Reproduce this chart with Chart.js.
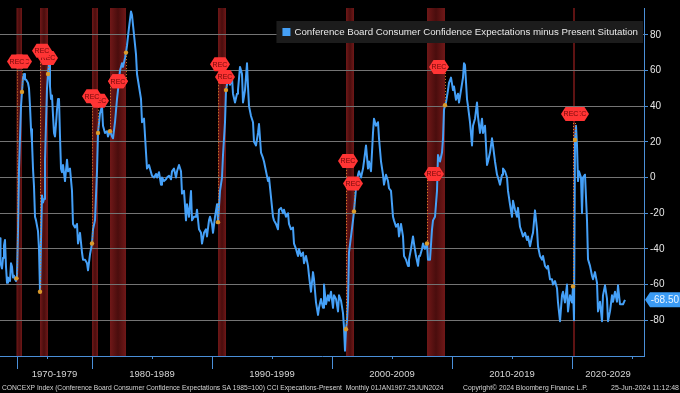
<!DOCTYPE html>
<html>
<head>
<meta charset="utf-8">
<script src="https://cdn.jsdelivr.net/npm/chart.js@4.4.1/dist/chart.umd.min.js"></script>
<style>
  html, body { margin: 0; padding: 0; background: #000; }
  #wrap { width: 680px; height: 393px; }
</style>
</head>
<body>
<div id="wrap"><canvas id="cci" width="680" height="393"></canvas></div>
<script>
// Conference Board: expectations index minus present situation index
// bimonthly until mid-1977, monthly after that (Bloomberg spaces by observation)
const seriesName = 'Conference Board Consumer Confidence Expectations minus Present Situtation';

const dates = [
  '1967-01','1967-03','1967-05','1967-07','1967-09','1967-11','1968-01','1968-03','1968-05','1968-07','1968-09','1968-11',
  '1969-01','1969-03','1969-05','1969-07','1969-09','1969-11','1970-01','1970-03','1970-05','1970-07','1970-09','1970-11',
  '1971-01','1971-03','1971-05','1971-07','1971-09','1971-11','1972-01','1972-03','1972-05','1972-07','1972-09','1972-11',
  '1973-01','1973-03','1973-05','1973-07','1973-09','1973-11','1974-01','1974-03','1974-05','1974-07','1974-09','1974-11',
  '1975-01','1975-03','1975-05','1975-07','1975-09','1975-11','1976-01','1976-03','1976-05','1976-07','1976-09','1976-11',
  '1977-01','1977-03','1977-05','1977-07','1977-08','1977-10','1977-12','1978-01','1978-03','1978-05','1978-06','1978-08',
  '1978-10','1978-11','1979-01','1979-03','1979-04','1979-06','1979-08','1979-09','1979-11','1980-01','1980-02','1980-04',
  '1980-06','1980-07','1980-09','1980-11','1980-12','1981-02','1981-04','1981-05','1981-07','1981-09','1981-10','1981-12',
  '1982-02','1982-03','1982-05','1982-07','1982-08','1982-10','1982-11','1982-12','1983-02','1983-04','1983-05','1983-07',
  '1983-09','1983-10','1983-12','1984-02','1984-03','1984-05','1984-07','1984-08','1984-10','1984-12','1985-01','1985-03',
  '1985-05','1985-06','1985-08','1985-10','1985-11','1986-01','1986-03','1986-04','1986-06','1986-08','1986-09','1986-11',
  '1987-01','1987-02','1987-04','1987-06','1987-07','1987-09','1987-11','1987-12','1988-02','1988-04','1988-05','1988-07',
  '1988-09','1988-10','1988-12','1989-02','1989-03','1989-05','1989-07','1989-08','1989-10','1989-11','1990-01','1990-02',
  '1990-04','1990-06','1990-07','1990-09','1990-11','1990-12','1991-02','1991-03','1991-05','1991-07','1991-09','1991-10',
  '1991-12','1992-02','1992-03','1992-05','1992-07','1992-08','1992-10','1992-12','1993-01','1993-02','1993-04','1993-06',
  '1993-07','1993-09','1993-11','1993-12','1994-02','1994-04','1994-05','1994-07','1994-09','1994-10','1994-12','1995-02',
  '1995-03','1995-05','1995-07','1995-08','1995-10','1995-12','1996-01','1996-03','1996-05','1996-06','1996-08','1996-10',
  '1996-11','1997-01','1997-03','1997-04','1997-06','1997-08','1997-09','1997-11','1998-01','1998-02','1998-04','1998-06',
  '1998-07','1998-09','1998-11','1998-12','1999-02','1999-04','1999-05','1999-07','1999-09','1999-10','1999-12','2000-02',
  '2000-03','2000-05','2000-07','2000-08','2000-10','2000-12','2001-01','2001-02','2001-03','2001-04','2001-05','2001-06',
  '2001-08','2001-10','2001-11','2002-01','2002-03','2002-04','2002-06','2002-08','2002-09','2002-11','2003-01','2003-02',
  '2003-04','2003-06','2003-07','2003-09','2003-11','2003-12','2004-02','2004-04','2004-05','2004-07','2004-09','2004-10',
  '2004-12','2005-02','2005-03','2005-05','2005-07','2005-08','2005-10','2005-12','2006-01','2006-03','2006-05','2006-06',
  '2006-08','2006-10','2006-11','2007-01','2007-03','2007-04','2007-05','2007-07','2007-08','2007-10','2007-12','2008-01',
  '2008-03','2008-05','2008-06','2008-08','2008-10','2008-11','2009-01','2009-03','2009-04','2009-05','2009-06','2009-07',
  '2009-09','2009-10','2009-12','2010-02','2010-03','2010-05','2010-07','2010-08','2010-10','2010-12','2011-01','2011-02',
  '2011-04','2011-05','2011-07','2011-09','2011-10','2011-12','2012-02','2012-03','2012-05','2012-07','2012-08','2012-10',
  '2012-12','2013-01','2013-03','2013-05','2013-06','2013-08','2013-10','2013-11','2014-01','2014-03','2014-04','2014-06',
  '2014-08','2014-09','2014-11','2015-01','2015-02','2015-04','2015-06','2015-07','2015-09','2015-11','2015-12','2016-02',
  '2016-04','2016-05','2016-07','2016-09','2016-10','2016-12','2017-02','2017-03','2017-05','2017-07','2017-08','2017-10',
  '2017-12','2018-01','2018-03','2018-05','2018-06','2018-08','2018-10','2018-11','2019-01','2019-03','2019-04','2019-06',
  '2019-08','2019-09','2019-11','2020-01','2020-02','2020-03','2020-04','2020-05','2020-06','2020-07','2020-08','2020-10',
  '2020-11','2020-12','2021-02','2021-04','2021-05','2021-07','2021-09','2021-10','2021-12','2022-02','2022-03','2022-05',
  '2022-07','2022-08','2022-10','2022-12','2023-01','2023-03','2023-05','2023-06','2023-08','2023-10','2023-11','2024-01',
  '2024-03','2024-04','2024-06'
];

const values = [
  -34, -36, -48, -51, -45, -38, -35, -50, -59, -56, -57, -58,
  -48, -50, -56, -55, -57, -58, -55, -30, 5, 22, 40, 48,
  56, 58, 55, 55, 54, 53, 50, 40, 27, 20, 5, -5,
  -22, -24, -27, -30, -40, -64, -35, -10, -14, -12, 10, 30,
  50, 58, 64, 51, 44, 46, 35, 25, 23, 30, 38, 44,
  44, 23, 5, 3, 7, -2, 10, 3.5, 5, -7.5, -26, -28,
  -26, -37, -31, -42, -46, -46, -48, -52, -43, -37, -29, -24,
  3.5, 25, 36, 40, 29, 25, 26, 23, 26, 23, 22, 31,
  44, 49, 60, 64, 62, 67, 70, 74, 84, 93, 91, 80,
  69, 58, 51, 44, 31, 33, 14, 5, 7, 3, 1, 0,
  2, 0, 3, -4, 0, -2, -1, 0, 1, -1, 3.5, 5,
  0, 3.5, 7, 3.5, -9, -7.5, -24, -15, -22, -7.5, -24, -22,
  -22, -18, -29, -31, -37, -31, -29, -33, -24, -22, -26, -31,
  -22, -15, -25, -7.5, 0, 12.6, 31, 49, 55, 52, 56, 47,
  42, 47, 49, 62, 58, 42, 49, 64, 51, 40, 34.5, 31,
  20, 18, 25, 30, 14, 11, 9, 3.5, -2, 0, -11, -22,
  -24, -26, -29, -18, -17, -20, -18, -22, -20, -26, -29, -28,
  -37, -40, -44, -40, -44, -42, -48, -44, -49.5, -55, -64, -53,
  -57, -70, -77, -73, -68, -73, -60, -71, -66, -69, -64, -73,
  -66, -68, -75, -66, -69, -76, -84, -97, -85, -80, -70, -42,
  -33, -24, -19, -6, 1.5, 3.5, 0, 5, 9, 18, 5, 9,
  3.5, 25, 33, 29, 31, 22, 9, 1.6, -4, 1.6, -2, -6,
  -7.5, -22, -24, -27.6, -26, -33, -26, -33, -44, -46, -49.5, -46,
  -40, -33, -37, -44, -49.5, -44, -44, -40, -37, -40, -37, -46,
  -46, -29, -24, -22, -7.5, 12.6, 9, 14, 21.7, 38, 40.5, 42,
  49, 53, 56, 49, 51, 43.6, 47, 42, 49, 56, 64, 63,
  44, 40, 31, 18, 29, 33, 42, 34, 25, 33, 25, 29,
  7, 9, 14, 22, 18, 9, 1.6, 0, -4, 1.6, 5, 3.5,
  0, -7.5, -15, -22, -13, -18, -22, -17, -27.6, -31, -33, -31,
  -35, -33, -38.5, -33, -31, -18.4, -29, -38.5, -44, -46, -44, -49.5,
  -51, -49.5, -57, -57, -60, -58, -62, -70, -80.5, -66, -64, -70,
  -60, -75, -66, -70, -61, -80, 21, 29, 18, -2, 3.5, 0,
  -20, 0, 1.6, -24, -45.8, -49.5, -55, -57, -53, -59, -75, -69.6,
  -80.5, -66, -60.4, -68, -80.5, -75, -66, -69.6, -64, -69.6, -60.4, -71,
  -71, -71, -68.5
];

const yTicks = [-80, -60, -40, -20, 0, 20, 40, 60, 80];
const decadeLabels = ['1970-1979', '1980-1989', '1990-1999', '2000-2009', '2010-2019', '2020-2029'];
const decadeStarts = ['1970-01', '1980-01', '1990-01', '2000-01', '2010-01', '2020-01', '2030-01'];
const midDecades = ['1975-01', '1985-01', '1995-01', '2005-01', '2015-01', '2025-01'];

// NBER recessions and where Bloomberg put its REC flags
const recStarts = ['1969-12', '1973-11', '1980-01', '1981-07', '1990-07', '2001-03', '2007-12', '2020-02'];
const recEnds   = ['1970-11', '1975-03', '1980-07', '1982-11', '1991-03', '2001-11', '2009-06', '2020-04'];
const recFlagStartDates  = ['1970-01', '1974-03', '1980-01', '1982-03', '1990-09', '2001-05', '2008-07', '2019-12'];
const recFlagStartLevels = [65, 71, 45.5, 54, 63.5, 9.3, 2, 35.6];
const recFlagEndDates    = ['1970-11', '1975-03', '1980-08', '1982-03', '1991-02', '2001-10', '2008-12', '2020-08'];
const recFlagEndLevels   = [65, 67, 43, 54, 56.4, -3.3, 62, 35.6];

const footLeft  = 'CONCEXP Index (Conference Board Consumer Confidence Expectations SA 1985=100) CCI Expecations-Present  Monthly 01JAN1967-25JUN2024';
const footMid   = 'Copyright\u00A9 2024 Bloomberg Finance L.P.';
const footRight = '25-Jun-2024 11:12:48';

const FONT = '"Liberation Sans", Arial, sans-serif';
const AXIS_BLUE = '#4a8fd8';
const LINE_BLUE = '#45a0f7';

// observation number: two per year till Jul 1977, then one per month
function obsOf(d) {
  const [y, m] = d.split('-').map(Number);
  const mi = (y - 1967) * 12 + (m - 1);
  return mi < 126 ? mi / 2 : mi - 63;
}

const points = dates.map((d, i) => ({ x: obsOf(d), y: values[i] }));

function valueAt(o) {
  for (let i = 1; i < points.length; i++) {
    if (points[i].x >= o) {
      const a = points[i - 1], b = points[i];
      return a.y + (b.y - a.y) * (o - a.x) / (b.x - a.x);
    }
  }
  return points[points.length - 1].y;
}

const X_MIN = 1, X_MAX = 645;
const decadeCenters = decadeLabels.map((_, i) => {
  const a = Math.max(obsOf(decadeStarts[i]), X_MIN);
  const b = Math.min(obsOf(decadeStarts[i + 1]), X_MAX);
  return (a + b) / 2;
});

function recFlag(ctx, cx, cy) {
  const w = 20, h = 14, p = 4.5;
  ctx.beginPath();
  ctx.moveTo(cx - w / 2, cy);
  ctx.lineTo(cx - w / 2 + p, cy - h / 2);
  ctx.lineTo(cx + w / 2 - p, cy - h / 2);
  ctx.lineTo(cx + w / 2, cy);
  ctx.lineTo(cx + w / 2 - p, cy + h / 2);
  ctx.lineTo(cx - w / 2 + p, cy + h / 2);
  ctx.closePath();
  ctx.fillStyle = '#ff3434';
  ctx.fill();
  ctx.fillStyle = '#6e0808';
  ctx.font = '7px ' + FONT;
  ctx.textAlign = 'center';
  ctx.textBaseline = 'middle';
  ctx.fillText('REC', cx, cy + 0.5);
}

// shrink a font until the string fits the width it has in the Bloomberg footer
function fitFont(ctx, text, width, size) {
  ctx.font = size + 'px ' + FONT;
  const w = ctx.measureText(text).width;
  if (w > width) ctx.font = (size * width / w).toFixed(2) + 'px ' + FONT;
}

const bloombergDecor = {
  id: 'bloombergDecor',
  beforeDraw(chart) {
    const { ctx, chartArea: a, scales: { x } } = chart;
    ctx.save();
    ctx.fillStyle = '#000';
    ctx.fillRect(0, 0, chart.width, chart.height);
    recStarts.forEach((s, i) => {
      const x0 = x.getPixelForValue(obsOf(s));
      const x1 = x.getPixelForValue(obsOf(recEnds[i]));
      const w = Math.max(x1 - x0, 2);
      const g = ctx.createLinearGradient(x0, 0, x0 + w, 0);
      g.addColorStop(0, 'rgb(112,24,24)');
      g.addColorStop(0.5, 'rgb(74,13,13)');
      g.addColorStop(1, 'rgb(112,24,24)');
      ctx.fillStyle = g;
      ctx.fillRect(x0, a.top, w, a.bottom - a.top);
    });
    ctx.restore();
  },
  afterDatasetsDraw(chart) {
    const { ctx, scales: { x, y } } = chart;
    ctx.save();
    // dotted leaders from flag to the series
    ctx.strokeStyle = '#d9822b';
    ctx.lineWidth = 1;
    ctx.setLineDash([1, 2]);
    recStarts.forEach((s, i) => {
      [[s, recFlagStartLevels[i]], [recEnds[i], recFlagEndLevels[i]]].forEach(([d, lvl]) => {
        const px = Math.round(x.getPixelForValue(obsOf(d))) + 0.5;
        ctx.beginPath();
        ctx.moveTo(px, y.getPixelForValue(lvl));
        ctx.lineTo(px, y.getPixelForValue(valueAt(obsOf(d))));
        ctx.stroke();
      });
    });
    ctx.setLineDash([]);
    ctx.fillStyle = '#d99a2b';
    recStarts.forEach((s, i) => {
      [s, recEnds[i]].forEach(d => {
        const o = obsOf(d);
        ctx.beginPath();
        ctx.arc(x.getPixelForValue(o), y.getPixelForValue(valueAt(o)), 2.2, 0, Math.PI * 2);
        ctx.fill();
      });
    });
    recStarts.forEach((s, i) => {
      recFlag(ctx, x.getPixelForValue(obsOf(recFlagEndDates[i])), y.getPixelForValue(recFlagEndLevels[i]));
      recFlag(ctx, x.getPixelForValue(obsOf(recFlagStartDates[i])), y.getPixelForValue(recFlagStartLevels[i]));
    });
    ctx.restore();
  },
  afterDraw(chart) {
    const { ctx, chartArea: a, scales: { x, y } } = chart;
    ctx.save();

    // legend box
    ctx.font = '9.7px ' + FONT;
    const tw = ctx.measureText(seriesName).width;
    const bw = 6 + 8 + 4 + tw + 5;
    const bx = a.right - 1 - bw, by = 21;
    ctx.fillStyle = '#1c1c1c';
    ctx.fillRect(bx, by, bw, 22);
    ctx.fillStyle = LINE_BLUE;
    ctx.fillRect(bx + 6, by + 7, 8, 8);
    ctx.fillStyle = '#e8e8e8';
    ctx.textAlign = 'left';
    ctx.textBaseline = 'middle';
    ctx.fillText(seriesName, bx + 18, by + 11.5);

    // decade tick marks
    ctx.strokeStyle = AXIS_BLUE;
    ctx.lineWidth = 1;
    decadeStarts.forEach(d => {
      const o = obsOf(d);
      if (o < X_MIN || o > X_MAX) return;
      const px = Math.round(x.getPixelForValue(o)) + 0.5;
      ctx.beginPath(); ctx.moveTo(px, a.bottom); ctx.lineTo(px, a.bottom + 13); ctx.stroke();
    });
    midDecades.forEach(d => {
      const o = obsOf(d);
      if (o < X_MIN || o > X_MAX) return;
      const px = Math.round(x.getPixelForValue(o)) + 0.5;
      ctx.beginPath(); ctx.moveTo(px, a.bottom); ctx.lineTo(px, a.bottom + 3); ctx.stroke();
    });

    // last value tag
    const last = values[values.length - 1];
    const ly = y.getPixelForValue(last);
    ctx.beginPath();
    ctx.moveTo(a.right + 1, ly);
    ctx.lineTo(a.right + 6, ly - 7.5);
    ctx.lineTo(chart.width, ly - 7.5);
    ctx.lineTo(chart.width, ly + 7.5);
    ctx.lineTo(a.right + 6, ly + 7.5);
    ctx.closePath();
    ctx.fillStyle = '#3b9bf4';
    ctx.fill();
    ctx.fillStyle = '#eaf4ff';
    ctx.font = '10px ' + FONT;
    ctx.textAlign = 'right';
    ctx.fillText(last.toFixed(2), chart.width - 1, ly + 0.5);

    // footer
    ctx.fillStyle = '#d4d4d4';
    ctx.textBaseline = 'middle';
    ctx.textAlign = 'left';
    fitFont(ctx, footLeft, 442, 7);
    ctx.fillText(footLeft, 2, 388);
    fitFont(ctx, footMid, 125, 7);
    ctx.fillText(footMid, 463, 388);
    ctx.textAlign = 'right';
    fitFont(ctx, footRight, 71, 7);
    ctx.fillText(footRight, chart.width - 1, 388);
    ctx.restore();
  }
};

new Chart(document.getElementById('cci'), {
  type: 'line',
  data: {
    datasets: [{
      label: seriesName,
      data: points,
      borderColor: LINE_BLUE,
      borderWidth: 2,
      pointRadius: 0,
      tension: 0,
      borderJoinStyle: 'round'
    }]
  },
  options: {
    responsive: false,
    animation: false,
    devicePixelRatio: 1,
    events: [],
    layout: { padding: 0 },
    plugins: { legend: { display: false }, tooltip: { enabled: false } },
    scales: {
      x: {
        type: 'linear',
        min: X_MIN,
        max: X_MAX,
        afterBuildTicks: s => { s.ticks = decadeCenters.map(v => ({ value: v })); },
        afterFit: s => { s.height = 37; },
        grid: { display: false, drawTicks: false },
        border: { color: AXIS_BLUE, width: 1 },
        ticks: {
          autoSkip: false,
          maxRotation: 0,
          padding: 13,
          color: '#d6d6d6',
          font: { family: FONT, size: 9.5 },
          callback: (v, i) => decadeLabels[i]
        }
      },
      y: {
        position: 'right',
        min: -100,
        max: 95,
        afterBuildTicks: s => { s.ticks = yTicks.map(v => ({ value: v })); },
        afterFit: s => { s.width = 36; },
        grid: { color: '#747474', lineWidth: 1, tickLength: 4, tickColor: AXIS_BLUE },
        border: { color: AXIS_BLUE, width: 1 },
        ticks: {
          padding: 2,
          color: '#e6e6e6',
          font: { family: FONT, size: 10 },
          callback: v => String(v)
        }
      }
    }
  },
  plugins: [bloombergDecor]
});
</script>
</body>
</html>
